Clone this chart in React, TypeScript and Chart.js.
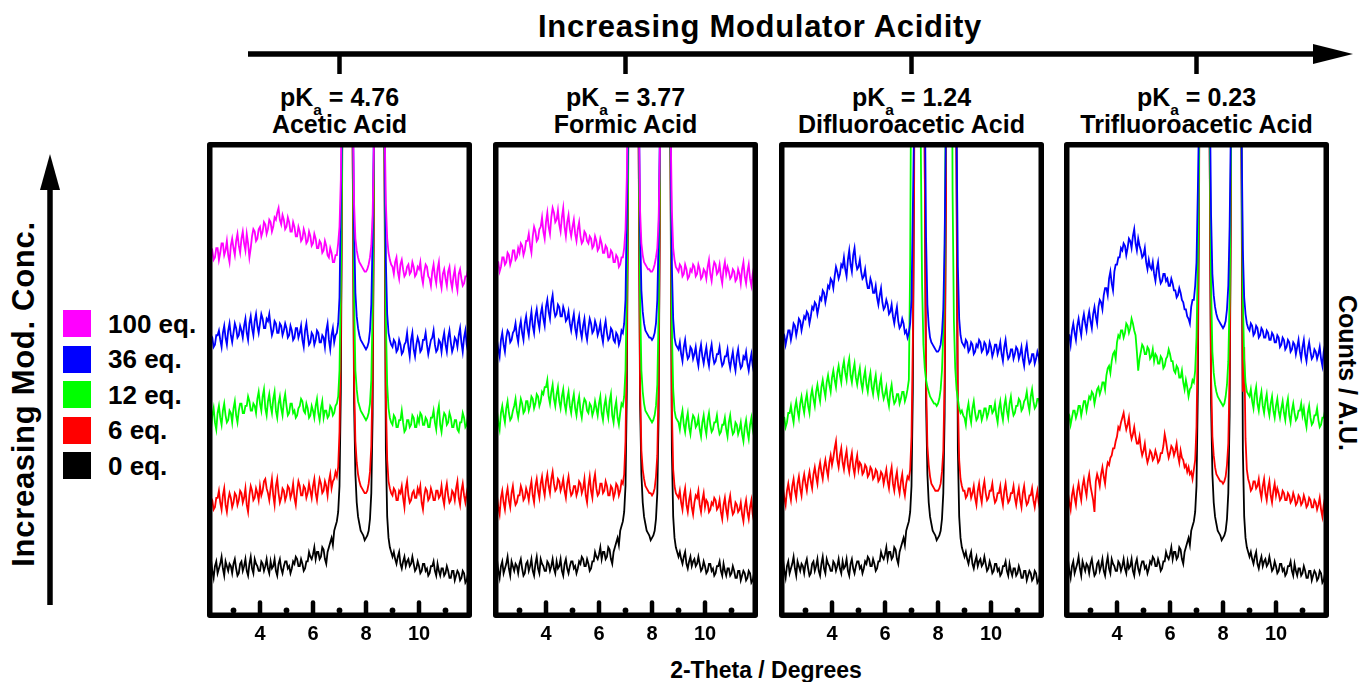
import React, { useEffect, useRef } from 'react';
import { Chart, registerables } from 'chart.js';

Chart.register(...registerables);

const FONT = '"Liberation Sans", Arial, Helvetica, sans-serif';

// ---------- data ----------
const TWO_THETA = [
  2, 2.05, 2.1, 2.15, 2.2, 2.25, 2.3, 2.35, 2.4, 2.45, 2.5, 2.55, 2.6, 2.65, 2.7, 2.75, 2.8, 2.85, 2.9, 2.95,
  3, 3.05, 3.1, 3.15, 3.2, 3.25, 3.3, 3.35, 3.4, 3.45, 3.5, 3.55, 3.6, 3.65, 3.7, 3.75, 3.8, 3.85, 3.9, 3.95,
  4, 4.05, 4.1, 4.15, 4.2, 4.25, 4.3, 4.35, 4.4, 4.45, 4.5, 4.55, 4.6, 4.65, 4.7, 4.75, 4.8, 4.85, 4.9, 4.95,
  5, 5.05, 5.1, 5.15, 5.2, 5.25, 5.3, 5.35, 5.4, 5.45, 5.5, 5.55, 5.6, 5.65, 5.7, 5.75, 5.8, 5.85, 5.9, 5.95,
  6, 6.05, 6.1, 6.15, 6.2, 6.25, 6.3, 6.35, 6.4, 6.45, 6.5, 6.55, 6.6, 6.65, 6.7, 6.75, 6.8, 6.85, 6.9, 6.95,
  7, 7.05, 7.1, 7.15, 7.2, 7.25, 7.3, 7.35, 7.4, 7.45, 7.5, 7.55, 7.6, 7.65, 7.7, 7.75, 7.8, 7.85, 7.9, 7.95,
  8, 8.05, 8.1, 8.15, 8.2, 8.25, 8.3, 8.35, 8.4, 8.45, 8.5, 8.55, 8.6, 8.65, 8.7, 8.75, 8.8, 8.85, 8.9, 8.95,
  9, 9.05, 9.1, 9.15, 9.2, 9.25, 9.3, 9.35, 9.4, 9.45, 9.5, 9.55, 9.6, 9.65, 9.7, 9.75, 9.8, 9.85, 9.9, 9.95,
  10, 10.05, 10.1, 10.15, 10.2, 10.25, 10.3, 10.35, 10.4, 10.45, 10.5, 10.55, 10.6, 10.65, 10.7, 10.75, 10.8, 10.85, 10.9, 10.95,
  11, 11.05, 11.1, 11.15, 11.2, 11.25, 11.3, 11.35, 11.4, 11.45, 11.5, 11.55, 11.6, 11.65, 11.7, 11.75, 11.8, 11.85, 11.9, 11.95,
  12,
];

const MAJOR_TICKS = [4, 6, 8, 10];
const MINOR_TICKS = [3, 5, 7, 9, 11];

const SERIES_LABELS = ['100 eq.', '36 eq.', '12 eq.', '6 eq.', '0 eq.'];
const SERIES_COLORS = ['#FF00FF', '#0000FF', '#00FF00', '#FF0000', '#000000'];

const ACID_NAMES = ['Acetic Acid', 'Formic Acid', 'Difluoroacetic Acid', 'Trifluoroacetic Acid'];
const ACID_PKA = ['4.76', '3.77', '1.24', '0.23'];

// 0 eq. (same sample shown in every panel)
const BLACK_0EQ = [
  20, 17, 22, 24, 19, 16, 21, 23, 18, 20, 22, 25, 20, 17, 23, 21, 19, 22, 21, 18,
  22, 24, 20, 17, 18, 22, 23, 19, 21, 24, 19, 17, 22, 25, 20, 18, 24, 22, 21, 19,
  19, 23, 22, 19, 21, 24, 20, 18, 23, 20, 21, 24, 19, 17, 22, 24, 20, 18, 21, 23,
  23, 20, 21, 18, 20, 23, 22, 25, 24, 21, 21, 24, 22, 19, 20, 23, 23, 27, 25, 24,
  26, 29, 24, 27, 27, 24, 25, 29, 28, 24, 22, 27, 29, 31, 33, 30, 36, 38, 40, 44,
  55, 95, 200, 400, 700, 800, 800, 700, 500, 320, 195, 90, 60, 48, 42, 39, 36, 35, 34, 32,
  33, 34, 36, 41, 52, 85, 185, 450, 750, 800, 800, 750, 500, 320, 185, 70, 42, 33, 29, 27,
  25, 27, 24, 22, 25, 27, 22, 20, 23, 25, 21, 23, 24, 21, 22, 25, 22, 19, 20, 23,
  21, 18, 19, 22, 22, 19, 20, 17, 18, 21, 21, 23, 19, 17, 22, 19, 17, 20, 20, 17,
  18, 21, 19, 16, 16, 19, 19, 15, 17, 19, 18, 15, 16, 19, 18, 14, 15, 18, 17, 15,
  16,
];

// ---- Acetic acid ----
const ACETIC_100 = [
  142, 147, 150, 154, 155, 151, 152, 156, 156, 151, 154, 158, 158, 153, 155, 159, 153, 150, 157, 160,
  156, 153, 159, 162, 157, 154, 160, 163, 158, 155, 162, 158, 152, 156, 161, 164, 163, 159, 160, 164,
  165, 161, 163, 167, 166, 162, 164, 168, 167, 163, 165, 169, 168, 171, 173, 168, 166, 170, 168, 164,
  165, 169, 167, 163, 163, 167, 165, 161, 161, 165, 163, 159, 160, 164, 162, 158, 159, 163, 161, 157,
  158, 162, 160, 156, 156, 159, 158, 154, 155, 159, 157, 153, 152, 156, 154, 150, 150, 153, 153, 158,
  165, 185, 240, 420, 700, 800, 800, 700, 500, 320, 215, 175, 160, 155, 152, 150, 149, 148, 147, 146,
  146, 147, 149, 152, 157, 170, 200, 450, 750, 800, 800, 750, 500, 320, 210, 175, 160, 154, 151, 149,
  148, 145, 150, 152, 146, 143, 149, 151, 147, 144, 145, 148, 149, 145, 146, 150, 148, 144, 145, 148,
  147, 150, 144, 141, 146, 149, 148, 144, 143, 140, 146, 149, 144, 141, 147, 150, 142, 139, 145, 147,
  143, 140, 146, 148, 142, 139, 144, 147, 141, 138, 145, 147, 143, 140, 141, 144, 144, 147, 142, 140,
  143,
];
const ACETIC_36 = [
  112, 109, 116, 119, 118, 114, 115, 119, 119, 121, 117, 114, 120, 123, 118, 115, 121, 124, 119, 116,
  120, 124, 122, 118, 119, 123, 121, 118, 123, 126, 120, 117, 124, 127, 122, 119, 125, 128, 123, 120,
  124, 128, 126, 122, 122, 126, 125, 128, 123, 119, 121, 125, 124, 120, 120, 124, 123, 119, 121, 124,
  122, 118, 119, 123, 121, 117, 118, 122, 122, 118, 120, 123, 117, 114, 121, 124, 119, 115, 116, 120,
  119, 115, 117, 121, 120, 116, 116, 119, 118, 114, 121, 124, 117, 113, 119, 122, 116, 119, 120, 124,
  135, 175, 210, 420, 700, 800, 800, 700, 500, 320, 225, 165, 137, 127, 122, 119, 117, 116, 115, 114,
  113, 114, 116, 121, 132, 160, 210, 450, 750, 800, 800, 750, 500, 320, 205, 150, 128, 120, 117, 115,
  114, 117, 116, 112, 113, 117, 115, 111, 112, 115, 116, 120, 114, 110, 117, 120, 113, 110, 115, 118,
  116, 112, 113, 117, 117, 120, 115, 111, 114, 117, 118, 121, 115, 112, 113, 117, 116, 112, 117, 120,
  115, 112, 118, 121, 116, 112, 114, 118, 117, 114, 119, 122, 116, 112, 118, 121, 115, 112, 117, 120,
  119,
];
const ACETIC_12 = [
  78, 82, 83, 79, 85, 88, 82, 79, 86, 89, 84, 81, 87, 90, 85, 82, 83, 87, 86, 82,
  88, 91, 85, 82, 87, 90, 90, 86, 86, 89, 89, 93, 91, 87, 87, 90, 89, 86, 92, 95,
  90, 87, 93, 96, 88, 85, 91, 94, 89, 86, 92, 95, 87, 84, 90, 93, 88, 85, 91, 94,
  89, 85, 86, 90, 90, 86, 87, 84, 85, 88, 89, 92, 91, 87, 86, 90, 88, 84, 85, 89,
  87, 84, 89, 92, 86, 83, 88, 91, 84, 87, 87, 84, 85, 89, 88, 85, 86, 89, 90, 93,
  104, 140, 190, 400, 700, 800, 800, 700, 500, 320, 205, 135, 104, 96, 91, 89, 87, 86, 85, 84,
  83, 84, 86, 90, 100, 130, 195, 450, 750, 800, 800, 750, 500, 320, 200, 125, 98, 88, 84, 82,
  81, 85, 84, 80, 80, 83, 83, 87, 82, 78, 79, 83, 83, 80, 81, 85, 84, 80, 80, 84,
  82, 86, 85, 81, 81, 84, 83, 80, 80, 84, 84, 87, 82, 79, 86, 89, 81, 78, 83, 86,
  85, 81, 82, 86, 84, 80, 80, 83, 83, 79, 78, 82, 82, 86, 84, 80, 81, 85, 83, 80,
  84,
];
const ACETIC_6 = [
  44, 41, 47, 50, 49, 45, 46, 50, 50, 53, 48, 45, 51, 54, 47, 44, 49, 52, 50, 46,
  48, 52, 51, 47, 49, 53, 52, 48, 50, 54, 47, 44, 51, 55, 53, 49, 50, 54, 52, 49,
  55, 51, 53, 57, 58, 54, 52, 49, 54, 58, 51, 47, 55, 58, 52, 48, 50, 54, 53, 49,
  51, 55, 54, 50, 52, 56, 50, 47, 53, 57, 55, 51, 51, 55, 54, 50, 52, 56, 53, 50,
  55, 58, 52, 49, 54, 58, 56, 52, 53, 57, 55, 51, 57, 60, 54, 57, 58, 61, 59, 63,
  78, 118, 185, 400, 700, 800, 800, 700, 500, 320, 190, 100, 74, 65, 60, 57, 55, 54, 53, 52,
  52, 53, 56, 61, 72, 102, 180, 450, 750, 800, 800, 750, 500, 320, 195, 92, 66, 57, 54, 52,
  51, 54, 53, 49, 49, 53, 52, 55, 50, 46, 54, 57, 51, 48, 49, 52, 53, 50, 50, 54,
  52, 55, 48, 45, 51, 54, 53, 49, 50, 54, 52, 49, 49, 53, 53, 50, 51, 55, 50, 47,
  53, 56, 51, 48, 49, 53, 52, 49, 54, 57, 50, 47, 53, 56, 51, 48, 52, 55, 54, 51,
  53,
];

// ---- Formic acid ----
const FORMIC_100 = [
  143, 140, 147, 150, 150, 146, 148, 152, 152, 149, 150, 154, 153, 149, 151, 155, 155, 151, 152, 156,
  154, 158, 157, 153, 155, 159, 159, 162, 157, 154, 161, 165, 163, 159, 160, 164, 165, 169, 163, 160,
  167, 171, 165, 162, 169, 173, 171, 167, 168, 172, 166, 163, 169, 173, 165, 161, 167, 170, 164, 161,
  165, 168, 162, 159, 164, 167, 161, 158, 159, 163, 162, 159, 158, 161, 160, 156, 157, 161, 159, 155,
  156, 160, 158, 154, 154, 157, 156, 152, 152, 155, 154, 150, 150, 153, 152, 148, 149, 152, 152, 156,
  164, 186, 240, 420, 700, 800, 800, 700, 500, 320, 215, 172, 158, 153, 150, 149, 148, 147, 147, 146,
  146, 147, 149, 152, 156, 168, 200, 450, 750, 800, 800, 750, 500, 320, 210, 172, 156, 151, 148, 147,
  146, 149, 148, 144, 145, 149, 147, 143, 144, 147, 146, 149, 148, 144, 145, 149, 147, 143, 144, 147,
  146, 143, 148, 151, 145, 142, 147, 150, 149, 145, 146, 149, 144, 141, 147, 150, 145, 148, 146, 143,
  144, 147, 146, 142, 143, 147, 145, 141, 147, 150, 144, 141, 146, 149, 143, 140, 145, 148, 144, 141,
  145,
];
const FORMIC_36 = [
  110, 107, 114, 117, 113, 110, 117, 120, 115, 112, 118, 121, 120, 116, 117, 120, 121, 124, 119, 116,
  122, 125, 120, 117, 124, 127, 122, 119, 125, 129, 123, 120, 127, 130, 125, 122, 128, 131, 126, 123,
  131, 134, 129, 126, 133, 136, 130, 127, 128, 132, 131, 127, 127, 131, 129, 125, 126, 129, 124, 121,
  125, 128, 122, 119, 124, 127, 121, 118, 123, 126, 120, 117, 122, 126, 124, 120, 121, 125, 123, 119,
  121, 124, 119, 116, 122, 125, 120, 117, 118, 122, 121, 117, 116, 120, 119, 115, 117, 121, 120, 124,
  134, 172, 210, 420, 700, 800, 800, 700, 500, 320, 225, 165, 138, 129, 124, 121, 120, 119, 118, 118,
  117, 118, 120, 124, 134, 160, 210, 450, 750, 800, 800, 750, 500, 320, 205, 148, 126, 118, 115, 114,
  113, 116, 111, 108, 114, 117, 112, 109, 110, 114, 113, 109, 111, 114, 109, 106, 112, 115, 110, 107,
  111, 114, 109, 106, 112, 115, 110, 107, 108, 111, 111, 114, 109, 106, 107, 110, 110, 113, 108, 105,
  109, 112, 107, 104, 110, 113, 108, 105, 106, 110, 109, 112, 107, 104, 108, 111, 106, 103, 108, 111,
  109,
];
const FORMIC_12 = [
  80, 77, 84, 87, 82, 79, 86, 89, 85, 82, 88, 91, 86, 83, 84, 87, 89, 92, 87, 84,
  88, 92, 90, 86, 87, 91, 91, 87, 89, 93, 92, 88, 90, 94, 93, 89, 91, 95, 94, 97,
  97, 100, 93, 90, 95, 98, 92, 89, 94, 97, 91, 88, 93, 96, 90, 87, 92, 95, 89, 86,
  91, 94, 88, 85, 90, 93, 87, 84, 89, 92, 91, 87, 86, 90, 89, 85, 87, 91, 88, 85,
  90, 93, 86, 83, 89, 92, 87, 84, 91, 94, 85, 82, 88, 91, 84, 81, 86, 90, 89, 93,
  104, 140, 190, 400, 700, 800, 800, 700, 500, 320, 205, 135, 104, 95, 90, 87, 86, 85, 84, 83,
  82, 83, 85, 89, 98, 128, 195, 450, 750, 800, 800, 750, 500, 320, 200, 122, 96, 87, 84, 83,
  82, 79, 84, 87, 81, 78, 83, 86, 80, 77, 82, 85, 84, 80, 81, 84, 79, 76, 82, 85,
  80, 77, 83, 86, 81, 78, 79, 82, 82, 85, 80, 77, 78, 81, 81, 84, 79, 76, 82, 85,
  80, 77, 78, 82, 81, 77, 79, 82, 77, 74, 80, 83, 78, 75, 81, 84, 79, 76, 78, 81,
  80,
];
const FORMIC_6 = [
  45, 42, 48, 51, 46, 43, 50, 53, 48, 45, 51, 54, 49, 46, 52, 55, 50, 47, 48, 51,
  51, 55, 53, 49, 50, 54, 52, 49, 54, 57, 51, 48, 55, 58, 53, 50, 56, 59, 54, 51,
  57, 60, 55, 52, 58, 61, 56, 53, 54, 58, 57, 53, 55, 58, 53, 50, 56, 59, 54, 51,
  52, 55, 55, 51, 53, 57, 56, 52, 54, 58, 51, 48, 55, 59, 53, 50, 57, 60, 54, 51,
  52, 56, 56, 52, 53, 57, 55, 51, 51, 55, 54, 50, 52, 56, 55, 51, 53, 57, 56, 60,
  74, 115, 185, 400, 700, 800, 800, 700, 500, 320, 190, 98, 70, 62, 58, 55, 54, 53, 52, 52,
  51, 52, 54, 59, 68, 98, 180, 450, 750, 800, 800, 750, 500, 320, 195, 88, 62, 55, 52, 51,
  50, 53, 48, 45, 51, 54, 47, 44, 49, 52, 46, 43, 48, 51, 50, 53, 47, 44, 49, 52,
  46, 49, 48, 44, 45, 48, 47, 50, 49, 45, 46, 49, 44, 41, 47, 50, 45, 42, 48, 51,
  46, 43, 44, 48, 47, 44, 45, 48, 43, 40, 46, 49, 44, 41, 46, 49, 43, 40, 45, 48,
  46,
];

// ---- Difluoroacetic acid ----
const DIFLUORO_36 = [
  114, 111, 117, 120, 119, 115, 118, 121, 121, 117, 120, 124, 123, 119, 122, 126, 125, 121, 124, 127,
  126, 129, 128, 124, 127, 131, 130, 133, 132, 128, 131, 135, 134, 138, 137, 133, 136, 140, 139, 143,
  142, 139, 144, 148, 146, 143, 145, 149, 148, 152, 147, 144, 151, 155, 149, 146, 153, 156, 150, 147,
  148, 151, 146, 143, 144, 147, 142, 139, 139, 143, 141, 137, 137, 140, 135, 132, 136, 139, 133, 130,
  131, 134, 132, 128, 129, 132, 127, 124, 128, 131, 125, 122, 123, 126, 124, 120, 121, 118, 120, 124,
  134, 172, 210, 420, 700, 800, 800, 700, 500, 320, 225, 160, 132, 123, 118, 116, 115, 114, 113, 112,
  112, 113, 115, 120, 130, 158, 210, 450, 750, 800, 800, 750, 500, 320, 205, 148, 126, 119, 116, 115,
  114, 117, 116, 112, 113, 116, 115, 111, 112, 115, 114, 117, 116, 112, 113, 116, 115, 111, 112, 116,
  114, 110, 112, 115, 115, 111, 113, 116, 111, 108, 114, 117, 112, 109, 110, 113, 113, 109, 111, 114,
  113, 109, 111, 114, 109, 106, 112, 115, 110, 107, 108, 111, 111, 107, 109, 112, 110, 106, 108, 111,
  111,
];
const DIFLUORO_12 = [
  77, 74, 81, 84, 84, 80, 82, 86, 86, 89, 85, 82, 88, 91, 87, 84, 90, 93, 89, 86,
  91, 94, 89, 86, 93, 96, 92, 89, 95, 98, 94, 91, 97, 100, 96, 93, 99, 102, 98, 95,
  101, 104, 100, 97, 103, 106, 102, 99, 105, 108, 103, 100, 106, 109, 102, 99, 104, 107, 101, 98,
  102, 105, 99, 96, 101, 104, 98, 95, 100, 103, 97, 94, 99, 102, 96, 93, 98, 101, 95, 92,
  94, 97, 92, 89, 95, 98, 93, 90, 91, 94, 94, 90, 92, 95, 95, 91, 93, 96, 100, 150,
  260, 500, 780, 800, 800, 600, 380, 200, 140, 115, 105, 100, 97, 95, 93, 92, 91, 90, 90, 89,
  90, 92, 96, 104, 120, 150, 230, 500, 800, 800, 320, 180, 125, 105, 96, 92, 88, 86, 87, 85,
  84, 81, 87, 90, 85, 82, 88, 91, 86, 83, 84, 87, 87, 83, 85, 88, 88, 84, 86, 89,
  89, 86, 87, 90, 85, 82, 88, 91, 86, 83, 89, 92, 87, 84, 90, 93, 88, 85, 86, 89,
  89, 92, 91, 87, 88, 91, 92, 95, 90, 87, 93, 96, 91, 88, 89, 92, 92, 89, 90, 93,
  94,
];
const DIFLUORO_6 = [
  48, 45, 51, 54, 50, 47, 53, 56, 52, 49, 55, 58, 53, 50, 56, 59, 54, 51, 57, 60,
  56, 53, 58, 61, 57, 54, 60, 63, 59, 56, 62, 65, 61, 58, 63, 66, 62, 59, 65, 68,
  64, 67, 71, 74, 66, 63, 68, 71, 65, 62, 67, 70, 64, 61, 66, 69, 63, 60, 65, 68,
  62, 65, 64, 60, 61, 64, 63, 59, 60, 63, 62, 58, 59, 62, 61, 57, 58, 61, 60, 56,
  59, 62, 57, 54, 60, 63, 56, 53, 58, 61, 55, 52, 57, 60, 54, 51, 56, 59, 58, 62,
  76, 116, 185, 400, 700, 800, 800, 700, 500, 320, 190, 100, 72, 64, 59, 56, 55, 54, 53, 53,
  53, 54, 56, 61, 70, 100, 180, 450, 750, 800, 800, 750, 500, 320, 195, 92, 66, 58, 55, 53,
  53, 50, 51, 54, 54, 50, 52, 55, 50, 47, 53, 56, 51, 48, 54, 57, 52, 49, 50, 53,
  53, 56, 51, 48, 49, 52, 52, 55, 50, 47, 53, 56, 51, 48, 49, 52, 52, 55, 50, 47,
  51, 54, 49, 46, 52, 55, 50, 47, 48, 51, 51, 54, 49, 46, 50, 53, 48, 45, 50, 53,
  49,
];

// ---- Trifluoroacetic acid ----
const TRIFLUORO_36 = [
  112, 109, 116, 119, 119, 115, 121, 124, 120, 117, 123, 126, 122, 119, 125, 128, 124, 121, 126, 129,
  125, 122, 128, 131, 127, 124, 131, 134, 133, 130, 136, 139, 139, 136, 143, 146, 141, 138, 146, 149,
  149, 152, 152, 156, 155, 158, 157, 153, 156, 160, 159, 156, 161, 164, 158, 155, 160, 157, 155, 152,
  153, 156, 150, 147, 151, 148, 147, 150, 145, 142, 147, 150, 144, 141, 142, 145, 145, 142, 143, 140,
  140, 143, 141, 138, 138, 135, 136, 139, 137, 134, 133, 130, 130, 127, 126, 124, 131, 134, 134, 140,
  150, 180, 215, 420, 700, 800, 800, 700, 500, 320, 225, 170, 145, 136, 131, 128, 126, 125, 124, 123,
  122, 123, 125, 130, 140, 165, 210, 450, 750, 800, 800, 750, 500, 320, 205, 155, 135, 128, 124, 122,
  121, 124, 123, 119, 120, 123, 122, 118, 119, 122, 121, 118, 118, 121, 120, 117, 117, 120, 119, 116,
  116, 119, 118, 114, 115, 118, 117, 113, 114, 117, 116, 112, 113, 116, 115, 111, 114, 117, 112, 109,
  114, 117, 111, 108, 113, 116, 112, 109, 110, 113, 112, 109, 111, 114, 109, 106, 112, 115, 110, 107,
  112,
];
const TRIFLUORO_12 = [
  80, 77, 83, 86, 85, 81, 84, 87, 87, 84, 86, 89, 89, 85, 88, 91, 91, 87, 90, 93,
  92, 95, 94, 90, 93, 96, 97, 94, 96, 99, 99, 96, 102, 105, 106, 103, 108, 111, 112, 109,
  116, 119, 118, 121, 121, 118, 120, 124, 123, 120, 122, 126, 124, 121, 119, 112, 104, 109, 112, 115,
  114, 111, 111, 114, 113, 109, 110, 113, 108, 111, 110, 107, 107, 110, 109, 105, 106, 109, 110, 113,
  111, 108, 108, 104, 103, 106, 105, 101, 101, 104, 99, 96, 100, 97, 93, 96, 97, 100, 99, 104,
  118, 150, 195, 400, 700, 800, 800, 700, 500, 320, 205, 140, 112, 103, 98, 95, 93, 92, 91, 90,
  89, 90, 93, 98, 108, 135, 195, 450, 750, 800, 800, 750, 500, 320, 200, 135, 108, 99, 95, 94,
  93, 96, 91, 88, 94, 97, 90, 87, 92, 95, 89, 86, 91, 94, 88, 85, 90, 93, 87, 84,
  89, 92, 87, 84, 88, 91, 86, 83, 89, 92, 85, 82, 87, 90, 86, 83, 84, 87, 87, 90,
  85, 88, 83, 80, 86, 89, 84, 81, 82, 85, 85, 88, 83, 80, 81, 84, 84, 87, 82, 79,
  81,
];
const TRIFLUORO_6 = [
  46, 43, 49, 52, 48, 45, 51, 54, 50, 47, 53, 56, 52, 49, 55, 58, 54, 51, 57, 60,
  55, 52, 49, 44, 57, 60, 58, 55, 60, 63, 59, 56, 62, 65, 64, 67, 68, 71, 71, 74,
  76, 80, 79, 82, 84, 86, 82, 79, 81, 84, 78, 75, 77, 80, 76, 73, 73, 76, 71, 68,
  70, 73, 68, 65, 67, 70, 69, 66, 67, 70, 68, 65, 66, 69, 69, 72, 77, 74, 70, 67,
  69, 72, 71, 68, 70, 73, 68, 65, 70, 67, 66, 63, 64, 61, 63, 60, 61, 58, 62, 66,
  80, 118, 185, 400, 700, 800, 800, 700, 500, 320, 190, 102, 76, 68, 63, 60, 59, 58, 57, 57,
  56, 57, 59, 64, 73, 102, 180, 450, 750, 800, 800, 750, 500, 320, 200, 95, 114, 75, 62, 58,
  56, 53, 54, 57, 57, 54, 55, 58, 53, 50, 55, 58, 52, 49, 54, 57, 51, 48, 53, 56,
  51, 54, 52, 49, 50, 53, 52, 49, 49, 52, 51, 48, 49, 52, 50, 47, 48, 51, 50, 47,
  48, 51, 49, 46, 47, 50, 49, 46, 46, 49, 48, 45, 47, 50, 45, 42, 47, 50, 46, 43,
  47,
];

// series per panel, in legend order (100, 36, 12, 6, 0 eq.); null = not measured
const PANEL_SERIES: (number[] | null)[][] = [
  [ACETIC_100, ACETIC_36, ACETIC_12, ACETIC_6, BLACK_0EQ],
  [FORMIC_100, FORMIC_36, FORMIC_12, FORMIC_6, BLACK_0EQ],
  [null, DIFLUORO_36, DIFLUORO_12, DIFLUORO_6, BLACK_0EQ],
  [null, TRIFLUORO_36, TRIFLUORO_12, TRIFLUORO_6, BLACK_0EQ],
];

// ---------- layout ----------
const PANEL_LEFT = [207, 493, 779, 1064];
const PANEL_W = 265;
const PANEL_TOP = 142;
const PLOT_H = 476;
const AXIS_H = 44;

const framePlugin = {
  id: 'frame',
  afterDraw(chart: any) {
    const { ctx, chartArea: a, scales } = chart;
    const x = scales.x;
    const lw = 5.5;
    ctx.save();
    ctx.strokeStyle = '#000';
    ctx.fillStyle = '#000';
    ctx.lineWidth = lw;
    ctx.lineJoin = 'round';
    ctx.strokeRect(a.left + lw / 2, a.top + lw / 2, a.right - a.left - lw, a.bottom - a.top - lw);
    ctx.lineWidth = 4.5;
    ctx.lineCap = 'round';
    MAJOR_TICKS.forEach((v) => {
      const px = x.getPixelForValue(v);
      ctx.beginPath();
      ctx.moveTo(px, a.bottom - lw);
      ctx.lineTo(px, a.bottom - lw - 10);
      ctx.stroke();
    });
    MINOR_TICKS.forEach((v) => {
      const px = x.getPixelForValue(v);
      ctx.beginPath();
      ctx.arc(px, a.bottom - lw - 2, 2.9, 0, Math.PI * 2);
      ctx.fill();
    });
    ctx.restore();
  },
};

function Panel({ index }: { index: number }) {
  const ref = useRef<HTMLCanvasElement>(null);
  useEffect(() => {
    const series = PANEL_SERIES[index];
    const datasets = series
      .map((vals, k) =>
        vals
          ? {
              label: SERIES_LABELS[k],
              data: TWO_THETA.map((x, i) => ({ x, y: vals[i] })),
              borderColor: SERIES_COLORS[k],
              backgroundColor: SERIES_COLORS[k],
              borderWidth: 1.8,
              pointRadius: 0,
              tension: 0,
              fill: false,
            }
          : null
      )
      .filter(Boolean) as any[];
    const chart = new Chart(ref.current as HTMLCanvasElement, {
      type: 'line',
      data: { datasets },
      options: {
        animation: false,
        responsive: false,
        devicePixelRatio: 1,
        events: [],
        layout: { padding: 0 },
        plugins: { legend: { display: false }, tooltip: { enabled: false }, title: { display: false } },
        scales: {
          x: {
            type: 'linear',
            min: 2,
            max: 12,
            afterFit: (s: any) => {
              s.height = AXIS_H;
              s.paddingLeft = 0;
              s.paddingRight = 0;
            },
            grid: { display: false, drawTicks: false },
            border: { display: false },
            ticks: {
              stepSize: 1,
              autoSkip: false,
              maxRotation: 0,
              padding: 4,
              color: '#000',
              font: { family: FONT, size: 20, weight: 'bold' },
              callback: (v: any) => (MAJOR_TICKS.includes(Number(v)) ? String(v) : ''),
            },
          },
          y: { display: false, min: -1, max: 201 },
        },
      } as any,
      plugins: [framePlugin],
    });
    return () => chart.destroy();
  }, [index]);
  return (
    <canvas
      ref={ref}
      width={PANEL_W}
      height={PLOT_H + AXIS_H}
      style={{ position: 'absolute', left: PANEL_LEFT[index], top: PANEL_TOP, width: PANEL_W, height: PLOT_H + AXIS_H }}
    />
  );
}

const textBase: React.CSSProperties = {
  position: 'absolute',
  fontFamily: FONT,
  fontWeight: 'bold',
  color: '#000',
  whiteSpace: 'nowrap',
  lineHeight: 1,
};

function Centered({ x, y, size, rotate = 0, spacing = 0, children }: any) {
  return (
    <div
      style={{
        ...textBase,
        left: x,
        top: y,
        fontSize: size,
        letterSpacing: spacing,
        transform: `translate(-50%, -50%) rotate(${rotate}deg)`,
      }}
    >
      {children}
    </div>
  );
}

export default function App() {
  const centers = PANEL_LEFT.map((l) => l + PANEL_W / 2);
  return (
    <div style={{ position: 'absolute', left: 0, top: 0, width: 1359, height: 682, background: '#fff', overflow: 'hidden' }}>
      <svg width={1359} height={682} style={{ position: 'absolute', left: 0, top: 0 }}>
        <line x1={248} y1={54} x2={1318} y2={54} stroke="#000" strokeWidth={5.5} />
        <polygon points="1313,44 1353,54 1313,64" fill="#000" />
        {centers.map((cx, i) => (
          <line key={i} x1={cx} y1={54} x2={cx} y2={74} stroke="#000" strokeWidth={4.5} />
        ))}
        <line x1={50} y1={605} x2={50} y2={185} stroke="#000" strokeWidth={5.5} />
        <polygon points="40,190 50,154 60,190" fill="#000" />
      </svg>

      <Centered x={760} y={26} size={31} spacing={0.7}>
        Increasing Modulator Acidity
      </Centered>

      {centers.map((cx, i) => (
        <React.Fragment key={i}>
          <Centered x={cx} y={97} size={25}>
            pK
            <span style={{ fontSize: '0.62em', position: 'relative', top: '0.55em' }}>a</span> = {ACID_PKA[i]}
          </Centered>
          <Centered x={cx} y={124} size={25}>
            {ACID_NAMES[i]}
          </Centered>
        </React.Fragment>
      ))}

      <Centered x={23} y={394} size={31} rotate={-90} spacing={0.7}>
        Increasing Mod. Conc.
      </Centered>

      {SERIES_LABELS.map((lab, k) => (
        <React.Fragment key={k}>
          <div
            style={{
              position: 'absolute',
              left: 63,
              top: 310 + k * 35.5,
              width: 28,
              height: 27,
              background: SERIES_COLORS[k],
            }}
          />
          <div style={{ ...textBase, left: 108, top: 310 + k * 35.5 + 13.5, fontSize: 26, transform: 'translateY(-50%)' }}>
            {lab}
          </div>
        </React.Fragment>
      ))}

      <Centered x={1347} y={373} size={25} rotate={90}>
        Counts / A.U.
      </Centered>

      <Centered x={766} y={670} size={23}>
        2-Theta / Degrees
      </Centered>

      {PANEL_LEFT.map((_, i) => (
        <Panel key={i} index={i} />
      ))}
    </div>
  );
}
